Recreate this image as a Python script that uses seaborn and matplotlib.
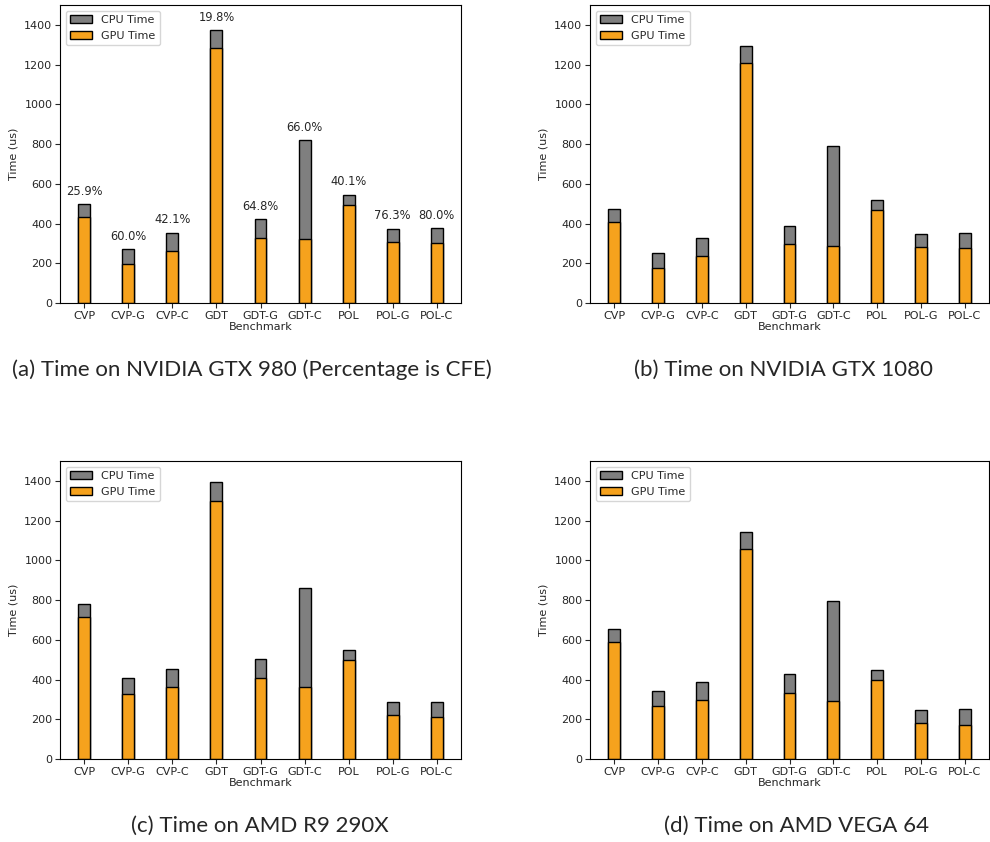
import matplotlib
matplotlib.use("Agg")
import matplotlib.pyplot as plt
from matplotlib.patches import Patch
import seaborn as sns
import pandas as pd

benchmarks = ["CVP", "CVP-G", "CVP-C", "GDT", "GDT-G", "GDT-C", "POL", "POL-G", "POL-C"]

# Total (CPU + GPU) and GPU time in microseconds per device
gtx980_total = [496, 273, 354, 1373, 423, 820, 545, 374, 377]
gtx980_gpu = [433, 196, 262, 1284, 327, 322, 493, 305, 300]
gtx980_cfe = ["25.9%", "60.0%", "42.1%", "19.8%", "64.8%", "66.0%", "40.1%", "76.3%", "80.0%"]

gtx1080_total = [471, 253, 325, 1296, 389, 788, 520, 349, 354]
gtx1080_gpu = [407, 176, 236, 1207, 297, 288, 468, 282, 277]

r9_total = [778, 408, 454, 1393, 503, 861, 551, 286, 289]
r9_gpu = [714, 328, 360, 1301, 408, 360, 497, 222, 212]

vega_total = [654, 343, 387, 1145, 429, 797, 449, 245, 254]
vega_gpu = [588, 266, 296, 1057, 331, 291, 397, 182, 173]

captions = [
    "(a) Time on NVIDIA GTX 980 (Percentage is CFE)",
    "(b) Time on NVIDIA GTX 1080",
    "(c) Time on AMD R9 290X",
    "(d) Time on AMD VEGA 64",
]

CPU_COLOR = "#7f7f7f"
GPU_COLOR = "#F6A21D"
FS = 8

sns.set_style("ticks")
plt.rcParams["font.family"] = ["DejaVu Sans"]

fig = plt.figure(figsize=(9.9, 8.42), dpi=100)

W, H = 990, 842
# axes boxes (left, top, width, height) in pixels and caption centre x
boxes = [
    (60, 5, 401, 298, 252),
    (590, 5, 399, 298, 784),
    (60, 461, 401, 298, 260),
    (590, 461, 399, 298, 797),
]
datasets = [
    (gtx980_total, gtx980_gpu, gtx980_cfe),
    (gtx1080_total, gtx1080_gpu, None),
    (r9_total, r9_gpu, None),
    (vega_total, vega_gpu, None),
]

for (x0, y0, w, h, capx), (total, gpu, cfe), cap in zip(boxes, datasets, captions):
    ax = fig.add_axes([x0 / W, 1 - (y0 + h) / H, w / W, h / H])
    df = pd.DataFrame({"Benchmark": benchmarks, "Total": total, "GPU": gpu})
    sns.barplot(data=df, x="Benchmark", y="Total", color=CPU_COLOR, saturation=1,
                edgecolor="black", linewidth=1.0, width=0.27, ax=ax)
    sns.barplot(data=df, x="Benchmark", y="GPU", color=GPU_COLOR, saturation=1,
                edgecolor="black", linewidth=1.0, width=0.27, ax=ax)
    ax.set_xlim(-0.55, 8.55)
    ax.set_ylim(0, 1500)
    ax.set_yticks(range(0, 1401, 200))
    ax.set_xlabel("Benchmark", fontsize=FS, labelpad=1)
    ax.set_ylabel("Time (us)", fontsize=FS)
    ax.tick_params(labelsize=FS, length=3.5, width=0.8, pad=2)
    for s in ax.spines.values():
        s.set_visible(True)
        s.set_linewidth(0.8)
        s.set_color("black")
    if cfe is not None:
        for i, (t, lab) in enumerate(zip(total, cfe)):
            ax.annotate(lab, (i, t), xytext=(0, 4.5), textcoords="offset points",
                        ha="center", va="bottom", fontsize=FS + 0.3)
    handles = [Patch(facecolor=CPU_COLOR, edgecolor="black", label="CPU Time"),
               Patch(facecolor=GPU_COLOR, edgecolor="black", label="GPU Time")]
    ax.legend(handles=handles, loc="upper left", fontsize=FS, frameon=True)
    cy = 1 - (y0 + h + 67) / H
    fig.text(capx / W, cy, cap, ha="center", va="center", fontsize=16,
             family=["Lato", "DejaVu Sans"])

fig.savefig("out.png", dpi=100)
